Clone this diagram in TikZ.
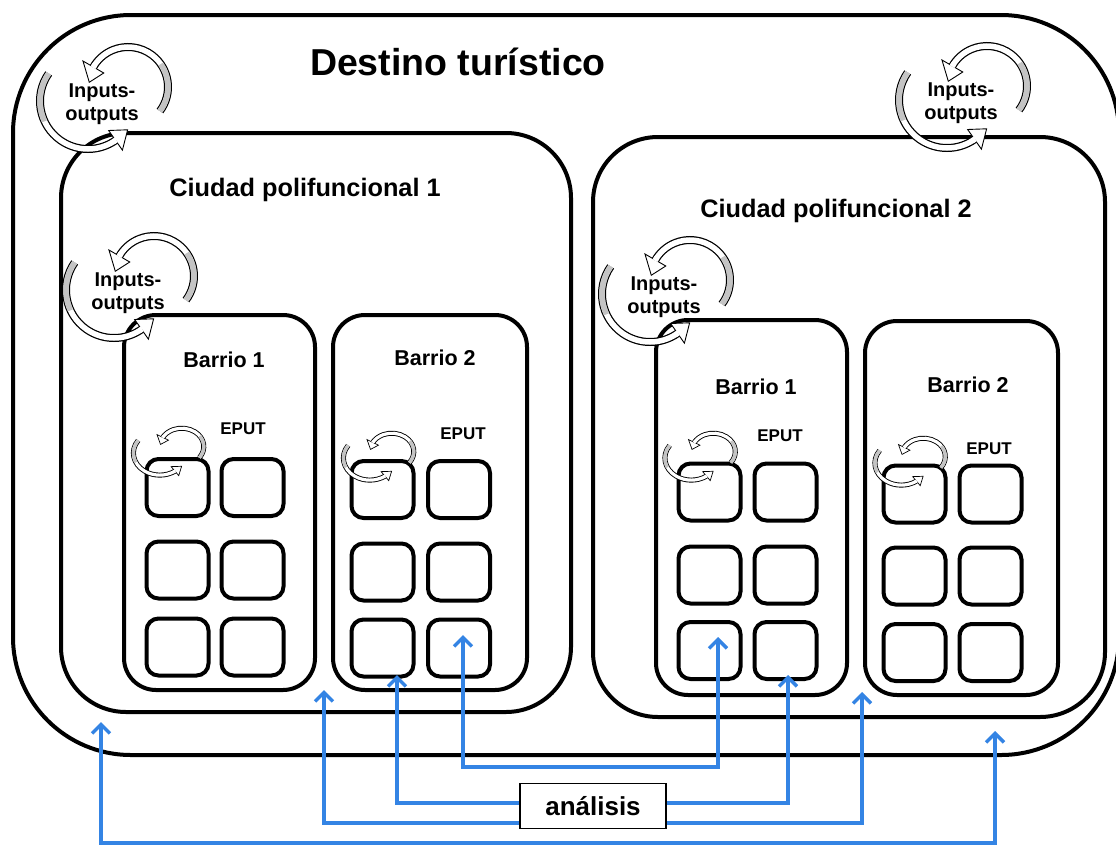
\documentclass[tikz,border=0pt]{standalone}
\usepackage{fontspec}
\setmainfont{Liberation Sans}
\usetikzlibrary{arrows.meta}
\definecolor{ablue}{RGB}{52,132,228}
\definecolor{bandgray}{RGB}{196,196,196}
% #1 x, #2 y, #3 extra transform, #4 outer band width, #5 inner band width, #6 outline width
\newcommand{\ioloop}[6]{%
\begin{scope}[shift={(#1,#2)},#3]
 % upper arrow (right side, over the top, to the left)
 \path[draw=black,line width=#4] ([shift={(26,15)}]-37:40) arc[start angle=-37,end angle=150,radius=40];
 \path[draw=white,line width=#5] ([shift={(26,15)}]-37:40) arc[start angle=-37,end angle=150,radius=40];
 \path[draw=bandgray,line width=#5] ([shift={(26,15)}]-37:40) arc[start angle=-37,end angle=35,radius=40];
 \path[draw=black,fill=white,line width=#6,line join=miter] ([shift={(26,15)}]150:52) -- ([shift={(26,15)}]173:39) -- ([shift={(26,15)}]150:28) -- cycle;
 \path[draw=white,line width=#5] ([shift={(26,15)}]146:40) arc[start angle=146,end angle=151,radius=40];
 % lower arrow (upper left, down and round the bottom, to the right)
 \path[draw=black,line width=#4] ([shift={(-14,1)}]145:48) arc[start angle=145,end angle=305,radius=48];
 \path[draw=white,line width=#5] ([shift={(-14,1)}]145:48) arc[start angle=145,end angle=305,radius=48];
 \path[draw=bandgray,line width=#5] ([shift={(-14,1)}]145:48) arc[start angle=145,end angle=205,radius=48];
 \path[draw=black,fill=white,line width=#6,line join=miter] ([shift={(-14,1)}]305:60) -- ([shift={(-14,1)}]324:49) -- ([shift={(-14,1)}]305:36) -- cycle;
 \path[draw=white,line width=#5] ([shift={(-14,1)}]302:48) arc[start angle=302,end angle=306,radius=48];
\end{scope}}
\begin{document}
\begin{tikzpicture}[x=1pt,y=1pt,
  frame/.style={draw=black,line width=4pt,inner sep=0pt,outer sep=0pt,fill=none},
  cell/.style={draw=black,line width=4pt,inner sep=0pt,outer sep=0pt,rounded corners=12pt,
     minimum width=62pt,minimum height=57pt},
  lbl/.style={inner sep=0pt,anchor=base},
  iotext/.style={inner sep=0pt,align=center,font=\bfseries\fontsize{20}{22.5}\selectfont},
  conn/.style={draw=ablue,line width=3.5pt},
  tipb/.tip={Straight Barb[length=9pt,width=18pt]}]
\fill[white] (0,0) rectangle (1116,-846);
\useasboundingbox (0,0) rectangle (1116,-846);

% frames (the outer one runs past the right edge of the picture)
\begin{scope}
\clip (0,0) rectangle (1116,-846);
\node[frame,rounded corners=118pt,minimum width=1106pt,minimum height=740pt] (dest) at (566,-385) {};
\end{scope}
\node[frame,rounded corners=65pt,minimum width=510pt,minimum height=579pt] (city1) at (316,-422.5) {};
\node[frame,rounded corners=65pt,minimum width=512pt,minimum height=580pt] (city2) at (849,-427) {};
\node[frame,rounded corners=32pt,minimum width=191pt,minimum height=375pt] (c1b1) at (219.5,-502.5) {};
\node[frame,rounded corners=32pt,minimum width=194pt,minimum height=375pt] (c1b2) at (430,-502.5) {};
\node[frame,rounded corners=32pt,minimum width=191pt,minimum height=375pt] (c2b1) at (751.5,-507.5) {};
\node[frame,rounded corners=32pt,minimum width=193pt,minimum height=374pt] (c2b2) at (961.5,-508) {};

% EPUT cells
\foreach \bx/\cxa/\cxb/\ra/\rb/\rc in {c1b1/177.5/252.5/487.5/570/647,
   c1b2/382.5/459/489.5/572/648, c2b1/709.5/785.5/492/575/650.5, c2b2/914.5/990.5/494/576/652.5}{
  \foreach \r/\yy in {1/\ra,2/\rb,3/\rc}{
    \node[cell] (\bx-\r-1) at (\cxa,-\yy) {};
    \node[cell] (\bx-\r-2) at (\cxb,-\yy) {};
  }}

% labels
\node[lbl,font=\bfseries\fontsize{37.5}{40}\selectfont] (tdest) at (458,-75.5) {Destino turístico};
\node[lbl,font=\bfseries\fontsize{25.3}{28}\selectfont] (tcity1) at (305,-196) {Ciudad polifuncional 1};
\node[lbl,font=\bfseries\fontsize{25.3}{28}\selectfont] (tcity2) at (836,-217) {Ciudad polifuncional 2};
\node[lbl,font=\bfseries\fontsize{21.5}{24}\selectfont] (tc1b1) at (224,-367) {Barrio 1};
\node[lbl,font=\bfseries\fontsize{21.5}{24}\selectfont] (tc1b2) at (435,-365) {Barrio 2};
\node[lbl,font=\bfseries\fontsize{21.5}{24}\selectfont] (tc2b1) at (756,-394) {Barrio 1};
\node[lbl,font=\bfseries\fontsize{21.5}{24}\selectfont] (tc2b2) at (968,-392) {Barrio 2};
\node[lbl,font=\bfseries\fontsize{17}{19}\selectfont] (e1) at (243,-434) {EPUT};
\node[lbl,font=\bfseries\fontsize{17}{19}\selectfont] (e2) at (463,-439) {EPUT};
\node[lbl,font=\bfseries\fontsize{17}{19}\selectfont] (e3) at (780,-441) {EPUT};
\node[lbl,font=\bfseries\fontsize{17}{19}\selectfont] (e4) at (989,-454) {EPUT};

% input-output loops
\ioloop{102}{-102}{}{8pt}{5.5pt}{0.9pt}
\ioloop{961}{-101}{}{8pt}{5.5pt}{0.9pt}
\ioloop{128}{-291}{}{8pt}{5.5pt}{0.9pt}
\ioloop{664}{-295}{}{8pt}{5.5pt}{0.9pt}
\ioloop{167.5}{-453.5}{xscale=0.55,yscale=0.46}{5pt}{3.2pt}{0.7pt}
\ioloop{377.5}{-458.5}{xscale=0.55,yscale=0.46}{5pt}{3.2pt}{0.7pt}
\ioloop{699}{-458.5}{xscale=0.55,yscale=0.46}{5pt}{3.2pt}{0.7pt}
\ioloop{909}{-463.5}{xscale=0.55,yscale=0.46}{5pt}{3.2pt}{0.7pt}
\node[iotext] (io1) at (102,-104) {Inputs-\\outputs};
\node[iotext] (io2) at (961,-103) {Inputs-\\outputs};
\node[iotext] (io3) at (128,-293) {Inputs-\\outputs};
\node[iotext] (io4) at (664,-297) {Inputs-\\outputs};

% analysis box and connectors
\node[draw=black,line width=1.5pt,fill=white,minimum width=146pt,minimum height=45pt,inner sep=0pt,
      font=\bfseries\fontsize{26}{28}\selectfont] (ana) at (593,-806) {análisis};
\coordinate (tA) at (101,-722);
\coordinate (tB) at (324,-690);
\coordinate (tC) at (397,-675);
\coordinate (tD) at (463,-635);
\coordinate (tE) at (718,-637);
\coordinate (tF) at (788,-675);
\coordinate (tG) at (862,-692);
\coordinate (tH) at (995,-731);
\coordinate (yAH) at (0,-843);
\coordinate (yDE) at (0,-767);
\draw[conn,tipb-tipb] (tA) -- (tA |- yAH) -- (tH |- yAH) -- (tH);
\draw[conn,tipb-tipb] (tD) -- (tD |- yDE) -- (tE |- yDE) -- (tE);
\draw[conn,-tipb] ([yshift=3pt]ana.west) -| (tC);
\draw[conn,-tipb] ([yshift=-17pt]ana.west) -| (tB);
\draw[conn,-tipb] ([yshift=3pt]ana.east) -| (tF);
\draw[conn,-tipb] ([yshift=-17pt]ana.east) -| (tG);
\end{tikzpicture}
\end{document}
